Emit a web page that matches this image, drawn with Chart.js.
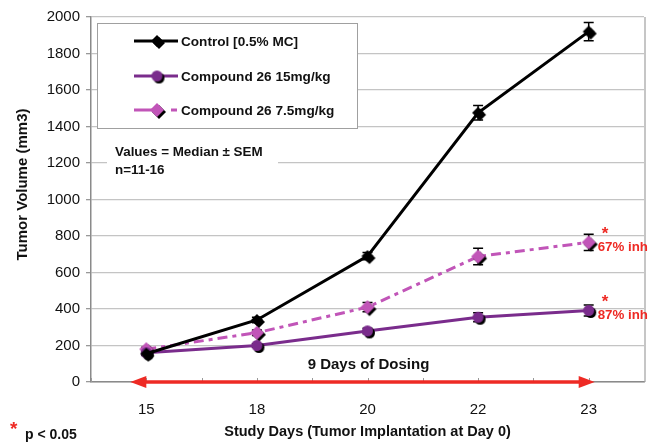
<!DOCTYPE html>
<html><head><meta charset="utf-8">
<script src="https://cdn.jsdelivr.net/npm/chart.js@4/dist/chart.umd.min.js"></script>
<style>html,body{margin:0;padding:0;background:#fff}canvas{display:block}</style>
</head><body>
<canvas id="c" width="651" height="444"></canvas>
<script>
// ---- data ----
const days = ['15', '18', '20', '22', '23'];
const controlMedian = [155, 340, 690, 1475, 1920];
const controlSem    = [10, 15, 20, 40, 50];
const c15Median     = [160, 200, 280, 355, 392];
const c15Sem        = [10, 10, 15, 25, 30];
const c75Median     = [180, 270, 410, 688, 765];
const c75Sem        = [10, 15, 25, 45, 45];
const seriesNames   = ['Control [0.5% MC]', 'Compound 26 15mg/kg', 'Compound 26 7.5mg/kg'];
const inhLabels     = ['87% inh', '67% inh']; // Compound 15mg/kg, Compound 7.5mg/kg
const noteLines     = ['Values = Median \u00B1 SEM', 'n=11-16'];
const dosingLabel   = '9 Days of Dosing';
const pNote         = 'p < 0.05';
const yTitle        = 'Tumor Volume (mm3)';
const xTitle        = 'Study Days (Tumor Implantation at Day 0)';

const FAM = '"Liberation Sans", Arial, Helvetica, sans-serif';
const font = (s, b) => (b ? 'bold ' : '') + s + 'px ' + FAM;
const BLACK = '#000000', PURPLE = '#7a2c8c', PINK = '#c155b8', RED = '#ee2a24';

function makeMarker(shape, color, r) {
  const c = r + 4, cv = document.createElement('canvas');
  cv.width = cv.height = 2 * c;
  const g = cv.getContext('2d');
  const path = (x, y) => {
    g.beginPath();
    if (shape === 'diamond') { g.moveTo(x, y - r); g.lineTo(x + r, y); g.lineTo(x, y + r); g.lineTo(x - r, y); g.closePath(); }
    else { g.arc(x, y, r, 0, Math.PI * 2); }
  };
  g.fillStyle = '#000'; path(c + 2, c + 2); g.fill();
  g.fillStyle = color; path(c, c); g.fill();
  return cv;
}
const mControl = makeMarker('diamond', BLACK, 6);
const m15 = makeMarker('circle', PURPLE, 5.5);
const m75 = makeMarker('diamond', PINK, 7);

const sems = [controlSem, c15Sem, c75Sem];

const deco = {
  id: 'deco',
  beforeDatasetsDraw(chart) {
    const ctx = chart.ctx, xs = chart.scales.x, ys = chart.scales.y, ca = chart.chartArea;
    ctx.save();
    // right border of plot area
    ctx.strokeStyle = '#a8a8a8'; ctx.lineWidth = 1.3;
    ctx.beginPath(); ctx.moveTo(ca.right + 1, ca.top); ctx.lineTo(ca.right + 1, ca.bottom); ctx.stroke();
    // legend box
    ctx.fillStyle = '#fff'; ctx.fillRect(97, 23, 260, 105);
    ctx.strokeStyle = '#a0a0a0'; ctx.lineWidth = 1; ctx.strokeRect(97.5, 23.5, 260, 105);
    const rows = [41, 76, 110];
    const markers = [mControl, m15, m75];
    chart.data.datasets.forEach((ds, i) => {
      const y = rows[i];
      ctx.strokeStyle = ds.borderColor; ctx.lineWidth = 3;
      ctx.setLineDash([]);
      ctx.beginPath();
      if (i === 2) { ctx.moveTo(134, y); ctx.lineTo(158, y); ctx.moveTo(171, y); ctx.lineTo(177, y); }
      else { ctx.moveTo(134, y); ctx.lineTo(178, y); }
      ctx.stroke();
      const mk = markers[i];
      ctx.drawImage(mk, 157 - mk.width / 2, y - mk.height / 2);
      ctx.fillStyle = '#111'; ctx.font = font(13.6, true); ctx.textBaseline = 'middle'; ctx.textAlign = 'left';
      ctx.fillText(seriesNames[i], 181, y + 1);
    });
    // note
    ctx.fillStyle = '#fff'; ctx.fillRect(107, 143, 171, 36);
    ctx.fillStyle = '#111'; ctx.font = font(13.4, true);
    ctx.fillText(noteLines[0], 115, 152);
    ctx.fillText(noteLines[1], 115, 170);
    // minor x ticks
    const axisY = ys.getPixelForValue(0);
    ctx.strokeStyle = '#999'; ctx.lineWidth = 1;
    const step = xs.getPixelForValue(1) - xs.getPixelForValue(0);
    for (let i = 0; i < days.length; i++) {
      const cx = xs.getPixelForValue(i);
      [cx - step / 2, cx].forEach(px => { ctx.beginPath(); ctx.moveTo(Math.round(px) + 0.5, axisY - 4); ctx.lineTo(Math.round(px) + 0.5, axisY); ctx.stroke(); });
    }
    // error bars
    ctx.strokeStyle = '#000'; ctx.lineWidth = 1.5;
    chart.data.datasets.forEach((ds, di) => {
      ds.data.forEach((v, i) => {
        const x = xs.getPixelForValue(i);
        const yh = ys.getPixelForValue(v + sems[di][i]), yl = ys.getPixelForValue(v - sems[di][i]);
        ctx.beginPath();
        ctx.moveTo(x, yh); ctx.lineTo(x, yl);
        ctx.moveTo(x - 5, yh); ctx.lineTo(x + 5, yh);
        ctx.moveTo(x - 5, yl); ctx.lineTo(x + 5, yl);
        ctx.stroke();
      });
    });
    ctx.restore();
  },
  afterDraw(chart) {
    const ctx = chart.ctx, xs = chart.scales.x, ys = chart.scales.y;
    ctx.save();
    // y axis title (drawn here so it can sit slightly above the plot centre, as in the original)
    ctx.save();
    ctx.translate(23, (chart.chartArea.top + chart.chartArea.bottom) / 2 - 15);
    ctx.rotate(-Math.PI / 2);
    ctx.fillStyle = '#111'; ctx.font = font(15, true); ctx.textAlign = 'center'; ctx.textBaseline = 'middle';
    ctx.fillText(yTitle, 0, 0);
    ctx.restore();
    const y0 = ys.getPixelForValue(0);
    const xl = xs.getPixelForValue(0) - 16, xr = xs.getPixelForValue(days.length - 1) + 6;
    ctx.strokeStyle = RED; ctx.fillStyle = RED; ctx.lineWidth = 3.5;
    ctx.beginPath(); ctx.moveTo(xl + 10, y0); ctx.lineTo(xr - 10, y0); ctx.stroke();
    ctx.beginPath(); ctx.moveTo(xl, y0); ctx.lineTo(xl + 16, y0 - 6); ctx.lineTo(xl + 16, y0 + 6); ctx.closePath(); ctx.fill();
    ctx.beginPath(); ctx.moveTo(xr, y0); ctx.lineTo(xr - 16, y0 - 6); ctx.lineTo(xr - 16, y0 + 6); ctx.closePath(); ctx.fill();
    // dosing label
    ctx.fillStyle = '#111'; ctx.font = font(15, true); ctx.textAlign = 'center'; ctx.textBaseline = 'middle';
    ctx.fillText(dosingLabel, (xs.getPixelForValue(0) + xs.getPixelForValue(days.length - 1)) / 2 + 1, y0 - 17);
    // inhibition labels
    const last = days.length - 1;
    [[c15Median, inhLabels[0]], [c75Median, inhLabels[1]]].forEach(([arr, lab]) => {
      const px = xs.getPixelForValue(last), py = ys.getPixelForValue(arr[last]);
      ctx.fillStyle = RED; ctx.textAlign = 'left';
      ctx.font = font(13.3, true); ctx.fillText(lab, px + 9, py + 5);
      ctx.font = font(17, true); ctx.fillText('*', px + 13, py - 8);
    });
    // p note
    ctx.fillStyle = RED; ctx.font = font(19, true); ctx.textAlign = 'left';
    ctx.fillText('*', 10, 430);
    ctx.fillStyle = '#111'; ctx.font = font(14, true);
    ctx.fillText(pNote, 25, 435);
    ctx.restore();
  }
};

new Chart(document.getElementById('c'), {
  type: 'line',
  data: {
    labels: days,
    datasets: [
      { label: seriesNames[0], data: controlMedian, borderColor: BLACK, backgroundColor: BLACK, borderWidth: 3, pointStyle: mControl, tension: 0 },
      { label: seriesNames[1], data: c15Median, borderColor: PURPLE, backgroundColor: PURPLE, borderWidth: 3, pointStyle: m15, tension: 0 },
      { label: seriesNames[2], data: c75Median, borderColor: PINK, backgroundColor: PINK, borderWidth: 3, borderDash: [10, 5, 4, 5], pointStyle: m75, tension: 0 }
    ]
  },
  options: {
    responsive: false, animation: false, devicePixelRatio: 1,
    layout: { padding: { left: 0, right: 4, top: 17, bottom: 0 } },
    plugins: { legend: { display: false }, tooltip: { enabled: false } },
    scales: {
      x: {
        type: 'category', offset: true,
        grid: { display: false },
        border: { display: true, color: '#8a8a8a', width: 1.5 },
        ticks: { color: '#111', font: { family: FAM, size: 15 }, padding: 11 },
        title: { display: true, text: xTitle, color: '#111', font: { family: FAM, size: 14.5, weight: 'bold' }, padding: { top: 0, bottom: 3 } },
        afterFit: s => { s.height = 62; }
      },
      y: {
        min: 0, max: 2000,
        ticks: { stepSize: 200, color: '#111', font: { family: FAM, size: 15 }, padding: 6, callback: v => String(v) },
        grid: { color: '#c4c4c4', tickColor: '#999', tickLength: 5, lineWidth: 1.3 },
        border: { display: true, color: '#8a8a8a', width: 1.5 },
        title: { display: false },
        afterFit: s => { s.width = 91; }
      }
    }
  },
  plugins: [deco]
});
</script>
</body></html>
